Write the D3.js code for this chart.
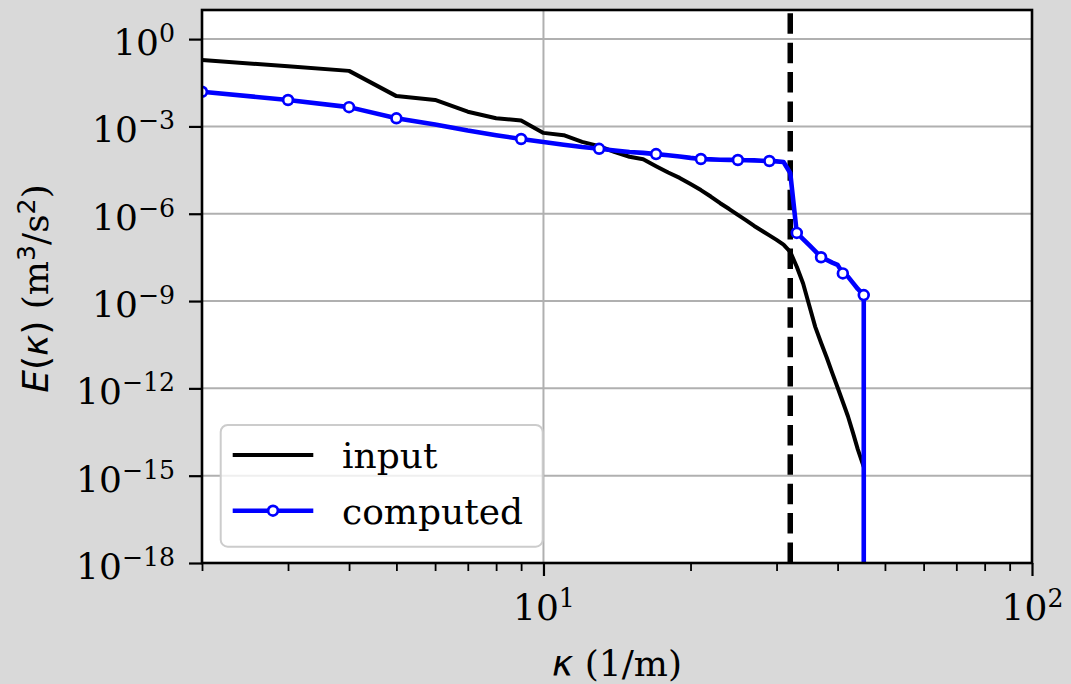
<!DOCTYPE html>
<html>
<head>
<meta charset="utf-8">
<script src="https://cdn.jsdelivr.net/npm/d3@7"></script>
<style>
  html, body { margin: 0; padding: 0; background: #d9d9d9; }
  #svg-container { width: 1071px; height: 684px; }
  svg text { font-family: "DejaVu Serif", serif; fill: #000; }
</style>
</head>
<body>
<div id="svg-container"></div>
<script>
// golfgetal kappa (1/m) en energie van het invoerspectrum
const kappaInput = [2, 3, 4, 5, 6, 7, 8, 9, 10, 11, 12, 13, 14, 15, 16, 17, 18, 19, 20, 21, 22, 23, 24,
    25, 26, 27, 28, 29, 30, 31, 32, 33, 34, 35, 36, 37, 38, 39, 40, 41, 42, 43, 44, 45.25]
const energyInput = [1.9e-1, 1.16e-1, 8.1e-2, 1.1e-2, 8.1e-3, 3.2e-3, 1.9e-3, 1.6e-3, 6.0e-4, 5.0e-4,
    2.95e-4, 2.1e-4, 1.3e-4, 9.1e-5, 7.4e-5, 4.3e-5, 2.6e-5, 1.7e-5, 1.05e-5, 6.5e-6, 3.9e-6, 2.3e-6,
    1.45e-6, 9.1e-7, 5.9e-7, 3.8e-7, 2.6e-7, 1.8e-7, 1.26e-7, 8.7e-8, 4.9e-8, 1.5e-8, 4.0e-9, 7.0e-10,
    1.3e-10, 3.7e-11, 1.15e-11, 3.4e-12, 1.07e-12, 3.4e-13, 1.1e-13, 3.0e-14, 8.0e-15, 2.0e-15]

// berekend spectrum, laatste punt valt naar nul
const kappaComputed = [2, 3, 4, 5, 6, 7, 8, 9, 10, 11, 12, 13, 14, 15, 16, 17, 18, 19, 20, 21, 22, 23, 24,
    25, 26, 27, 28, 29, 30, 31, 32, 33, 34, 35, 36, 37, 38, 39, 40, 41, 42, 43, 44, 45.25, 45.25]
const energyComputed = [1.55e-2, 8.1e-3, 4.6e-3, 1.9e-3, 1.17e-3, 7.2e-4, 5.0e-4, 3.7e-4, 2.9e-4, 2.35e-4,
    1.95e-4, 1.7e-4, 1.48e-4, 1.32e-4, 1.23e-4, 1.12e-4, 1.02e-4, 9.3e-5, 8.3e-5, 7.6e-5, 7.4e-5, 7.2e-5,
    7.1e-5, 7.0e-5, 6.9e-5, 6.8e-5, 6.6e-5, 6.5e-5, 6.3e-5, 6.0e-5, 2.5e-5, 2.2e-7, 1.35e-7, 8.3e-8,
    5.2e-8, 3.2e-8, 2.6e-8, 2.1e-8, 1.75e-8, 8.9e-9, 6.9e-9, 4.2e-9, 2.6e-9, 1.6e-9, 0]
const markerKappa = [2, 3, 4, 5, 9, 13, 17, 21, 25, 29, 33, 37, 41, 45.25]

const kappaCutoff = 32

const xTicksMajor = [10, 100]
const xTicksMinor = [2, 3, 4, 5, 6, 7, 8, 9, 20, 30, 40, 50, 60, 70, 80, 90]
const yTicks = [1e0, 1e-3, 1e-6, 1e-9, 1e-12, 1e-15, 1e-18]
const legendLabels = ['input', 'computed']

function createSpectrumChart() {
    const fontSize = 36
    const width = 1071
    const height = 684
    const margin = { top: 10, right: 39, bottom: 121, left: 202 }
    const innerWidth = width - margin.left - margin.right
    const innerHeight = height - margin.top - margin.bottom

    const svg = d3.select('#svg-container')
        .append('svg').attr('width', width).attr('height', height)

    const xScale = d3.scaleLog().domain([2, 100]).range([0, innerWidth])
    const yScale = d3.scaleLog().domain([1e-18, 1e1]).range([innerHeight, 0]).clamp(true)

    const g = svg.append('g')
        .attr('transform', `translate(${margin.left}, ${margin.top})`)

    g.append('rect').attr('width', innerWidth).attr('height', innerHeight).attr('fill', '#fff')
    g.append('clipPath').attr('id', 'plot-clip')
        .append('rect').attr('width', innerWidth).attr('height', innerHeight)

    //rasterlijnen
    g.append('g').selectAll('line').data(yTicks).enter().append('line')
        .attr('x1', 0).attr('x2', innerWidth)
        .attr('y1', d => yScale(d)).attr('y2', d => yScale(d))
        .attr('stroke', '#b0b0b0').attr('stroke-width', 2)
    g.append('g').selectAll('line').data(xTicksMajor).enter().append('line')
        .attr('x1', d => xScale(d)).attr('x2', d => xScale(d))
        .attr('y1', 0).attr('y2', innerHeight)
        .attr('stroke', '#b0b0b0').attr('stroke-width', 2)

    const plot = g.append('g').attr('clip-path', 'url(#plot-clip)')

    //cutoff lijn
    plot.append('line')
        .attr('x1', xScale(kappaCutoff)).attr('x2', xScale(kappaCutoff))
        .attr('y1', innerHeight).attr('y2', 0)
        .attr('stroke', '#000').attr('stroke-width', 5.5).attr('stroke-dasharray', '20.5,8.9')

    const line = d3.line().x(d => xScale(d[0])).y(d => yScale(d[1]))

    const inputData = kappaInput.map((k, i) => [k, energyInput[i]])
    const computedData = kappaComputed.map((k, i) => [k, energyComputed[i]])

    plot.append('path').datum(inputData).attr('d', line)
        .attr('fill', 'none').attr('stroke', '#000').attr('stroke-width', 4)
        .attr('stroke-linejoin', 'round')
    plot.append('path').datum(computedData).attr('d', line)
        .attr('fill', 'none').attr('stroke', '#0000ff').attr('stroke-width', 4.6)
        .attr('stroke-linejoin', 'round')
    plot.append('g').selectAll('circle')
        .data(computedData.filter(d => d[1] > 0 && markerKappa.includes(d[0])))
        .enter().append('circle')
        .attr('cx', d => xScale(d[0])).attr('cy', d => yScale(d[1])).attr('r', 4.9)
        .attr('fill', '#fff').attr('stroke', '#0000ff').attr('stroke-width', 2.7)

    //labels als 10 tot de macht
    const powerLabel = sel => sel.each(function (d) {
        const exp = String(Math.round(Math.log10(d))).replace('-', '\u2212')
        const t = d3.select(this).text('')
            .attr('font-size', fontSize).attr('font-family', 'DejaVu Serif').attr('dy', null)
        t.append('tspan').text('10')
        t.append('tspan').attr('dy', -13).attr('font-size', fontSize * 0.7).text(exp)
    })

    //y-as
    const yAxis = g.append('g')
        .call(d3.axisLeft(yScale).tickValues(yTicks).tickSize(13).tickSizeOuter(0).tickPadding(14))
    yAxis.select('.domain').remove()
    yAxis.selectAll('.tick line').attr('stroke-width', 2.2)
    yAxis.selectAll('.tick text').call(powerLabel).attr('y', 15.5)

    //x-as, kleine en grote streepjes
    const xMinor = g.append('g').attr('transform', `translate(0, ${innerHeight})`)
        .call(d3.axisBottom(xScale).tickValues(xTicksMinor).tickSize(8).tickSizeOuter(0).tickFormat(''))
    xMinor.select('.domain').remove()
    xMinor.selectAll('.tick line').attr('stroke-width', 1.8)
    const xAxis = g.append('g').attr('transform', `translate(0, ${innerHeight})`)
        .call(d3.axisBottom(xScale).tickValues(xTicksMajor).tickSize(13).tickSizeOuter(0))
    xAxis.select('.domain').remove()
    xAxis.selectAll('.tick line').attr('stroke-width', 2.2)
    xAxis.selectAll('.tick text').call(powerLabel).attr('y', 57)

    //kader
    g.append('rect').attr('width', innerWidth).attr('height', innerHeight)
        .attr('fill', 'none').attr('stroke', '#000').attr('stroke-width', 2.6)

    //as titels
    const xLabel = svg.append('text')
        .attr('x', margin.left + innerWidth / 2).attr('y', 676)
        .attr('text-anchor', 'middle').attr('font-size', fontSize)
    xLabel.append('tspan').attr('font-family', 'DejaVu Sans').attr('font-style', 'italic').text('\u03ba')
    xLabel.append('tspan').text(' (1/m)')

    const yLabel = svg.append('text')
        .attr('transform', `translate(48, ${margin.top + innerHeight / 2 + 2}) rotate(-90)`)
        .attr('text-anchor', 'middle').attr('font-size', fontSize)
    yLabel.append('tspan').attr('font-family', 'DejaVu Sans').attr('font-style', 'italic').text('E')
    yLabel.append('tspan').attr('font-family', 'DejaVu Sans').text('(')
    yLabel.append('tspan').attr('font-family', 'DejaVu Sans').attr('font-style', 'italic').text('\u03ba')
    yLabel.append('tspan').attr('font-family', 'DejaVu Sans').text(')')
    yLabel.append('tspan').text(' (m')
    yLabel.append('tspan').attr('font-family', 'DejaVu Sans').attr('font-size', fontSize * 0.7).attr('dy', -13).text('3')
    yLabel.append('tspan').attr('dy', 13).text('/s')
    yLabel.append('tspan').attr('font-family', 'DejaVu Sans').attr('font-size', fontSize * 0.7).attr('dy', -13).text('2')
    yLabel.append('tspan').attr('dy', 13).text(')')

    //legenda
    const legend = g.append('g').attr('transform', 'translate(18.7, 415)')
    legend.append('rect').attr('width', 322).attr('height', 121.7).attr('rx', 7)
        .attr('fill', '#fff').attr('fill-opacity', 0.8)
        .attr('stroke', '#cccccc').attr('stroke-width', 2)
    const rows = legend.selectAll('.row').data(legendLabels).enter().append('g')
        .attr('class', 'row').attr('transform', (d, i) => `translate(12, ${30 + i * 55.7})`)
    rows.append('line').attr('x1', 0).attr('x2', 80.6)
        .attr('stroke', (d, i) => i === 0 ? '#000' : '#0000ff')
        .attr('stroke-width', (d, i) => i === 0 ? 4 : 4.6)
    rows.filter((d, i) => i === 1).append('circle').attr('cx', 40.3).attr('r', 4.9)
        .attr('fill', '#fff').attr('stroke', '#0000ff').attr('stroke-width', 2.7)
    rows.append('text').attr('x', 109.3).attr('y', 13).attr('font-size', fontSize).text(d => d)
}
createSpectrumChart()
</script>
</body>
</html>
